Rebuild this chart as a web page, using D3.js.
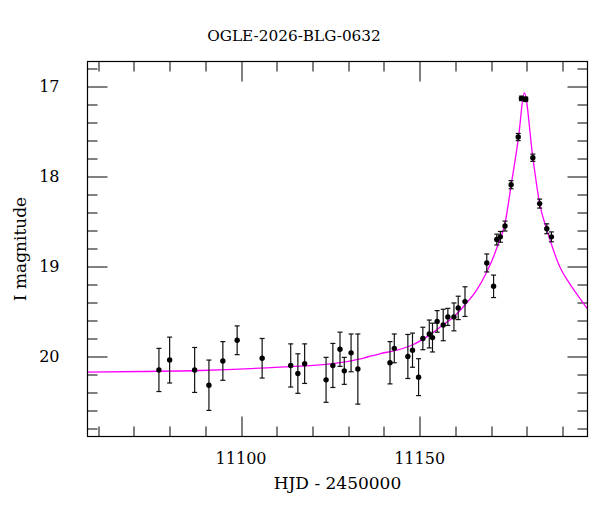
<!DOCTYPE html>
<html>
<head>
<meta charset="utf-8">
<script src="https://cdn.jsdelivr.net/npm/d3@7"></script>
<style>
  body { margin: 0; background: #fff; }
  svg text { font-family: "DejaVu Serif", "Liberation Serif", serif; fill: #000; }
</style>
</head>
<body>
<div id="chart"></div>
<script>
// observed photometry (HJD - 2450000, I mag, 1-sigma error)
const obsDays = [11077.0, 11080.0, 11087.0, 11091.0, 11094.9, 11098.9, 11105.9,
    11113.9, 11115.9, 11117.8, 11123.8, 11125.7, 11127.7, 11128.9, 11130.8, 11132.7,
    11141.7, 11142.9, 11146.7, 11148.0, 11149.7, 11150.9, 11152.7, 11153.6, 11154.9,
    11156.6, 11157.9, 11159.6, 11160.8, 11162.7, 11168.8, 11170.7, 11171.6, 11172.6,
    11173.9, 11175.6, 11177.6, 11178.5, 11179.7, 11181.7, 11183.6, 11185.6, 11186.9];
const obsMags = [20.15, 20.04, 20.15, 20.32, 20.05, 19.82, 20.02,
    20.10, 20.19, 20.08, 20.26, 20.10, 19.92, 20.16, 19.96, 20.14,
    20.07, 19.91, 20.00, 19.93, 20.23, 19.80, 19.75, 19.79, 19.61,
    19.65, 19.56, 19.56, 19.46, 19.39, 18.96, 19.22, 18.70, 18.67,
    18.55, 18.09, 17.56, 17.13, 17.14, 17.79, 18.30, 18.58, 18.67];
const obsErrs = [0.24, 0.255, 0.25, 0.28, 0.215, 0.16, 0.22,
    0.24, 0.22, 0.22, 0.25, 0.245, 0.19, 0.15, 0.21, 0.39,
    0.235, 0.16, 0.245, 0.19, 0.205, 0.125, 0.155, 0.16, 0.12,
    0.175, 0.095, 0.155, 0.13, 0.165, 0.10, 0.125, 0.06, 0.06,
    0.055, 0.045, 0.04, 0.025, 0.025, 0.04, 0.05, 0.055, 0.055];

// model light curve, sampled off the figure
const modelDays = [11057.0, 11071.7, 11088.4, 11110.8, 11125.7, 11134.1, 11138.8,
    11143.6, 11148.1, 11152.8, 11156.5, 11159.5, 11162.6, 11166.0, 11168.8, 11170.5,
    11171.9, 11173.9, 11175.6, 11177.7, 11179.3, 11181.7, 11183.6, 11185.6, 11187.3,
    11189.2, 11192.0, 11194.8, 11197.0];
const modelMags = [20.175, 20.167, 20.156, 20.118, 20.08, 20.02, 19.97,
    19.93, 19.87, 19.76, 19.65, 19.56, 19.43, 19.26, 19.06, 18.91,
    18.76, 18.52, 18.10, 17.56, 17.07, 17.79, 18.30, 18.59, 18.80,
    19.00, 19.19, 19.35, 19.47];

const xMajor = [11100, 11150];
const yMajor = [17, 18, 19, 20];

const titleText = 'OGLE-2026-BLG-0632';
const xLabel = 'HJD - 2450000';
const yLabel = 'I magnitude';

const width = 600, height = 512;
const margin = { top: 61.5, right: 12.5, bottom: 75.5, left: 87.5 };
const w = width - margin.left - margin.right;
const h = height - margin.top - margin.bottom;

const svg = d3.select('#chart').append('svg')
    .attr('width', width)
    .attr('height', height);

const g = svg.append('g')
    .attr('transform', `translate(${margin.left},${margin.top})`);

const x = d3.scaleLinear().domain([11057, 11197]).range([0, w]);
// magnitudes: brighter is up
const y = d3.scaleLinear().domain([16.72, 20.89]).range([0, h]);

// ticks inward on all four sides
const xMinor = d3.range(11060, 11197, 10);
const yMinor = d3.range(16.8, 20.89, 0.2);
const isMajor = (v, list) => list.some(m => Math.abs(m - v) < 1e-6);

const tickG = g.append('g').attr('stroke', '#000').attr('stroke-width', 1);
xMinor.forEach(v => {
    const len = isMajor(v, xMajor) ? 20 : 10;
    const px = Math.round(x(v)) + 0.5;
    tickG.append('line').attr('x1', px).attr('x2', px).attr('y1', h).attr('y2', h - len);
    tickG.append('line').attr('x1', px).attr('x2', px).attr('y1', 0).attr('y2', len);
});
yMinor.forEach(v => {
    const len = isMajor(v, yMajor) ? 20 : 10;
    const py = Math.round(y(v)) + 0.5;
    tickG.append('line').attr('x1', 0).attr('x2', len).attr('y1', py).attr('y2', py);
    tickG.append('line').attr('x1', w).attr('x2', w - len).attr('y1', py).attr('y2', py);
});

// tick labels
g.selectAll('.xlab')
    .data(xMajor)
    .join('text')
    .attr('class', 'xlab')
    .attr('x', d => x(d))
    .attr('y', h + 27)
    .attr('text-anchor', 'middle')
    .style('font-size', '16px')
    .text(d => d);

g.selectAll('.ylab')
    .data(yMajor)
    .join('text')
    .attr('class', 'ylab')
    .attr('x', -28)
    .attr('y', d => y(d))
    .attr('dy', '0.36em')
    .attr('text-anchor', 'end')
    .style('font-size', '16px')
    .text(d => d);

// model curve
const pts = modelDays.map((d, i) => ({ t: d, m: modelMags[i] }));
const lineGen = d3.line()
    .x(d => x(d.t))
    .y(d => y(d.m))
    .curve(d3.curveMonotoneX);

g.append('clipPath').attr('id', 'clip')
    .append('rect').attr('width', w).attr('height', h);

g.append('path')
    .datum(pts)
    .attr('clip-path', 'url(#clip)')
    .attr('fill', 'none')
    .attr('stroke', '#ff00ff')
    .attr('stroke-width', 1.3)
    .attr('d', lineGen);

// data points with error bars
const obs = obsDays.map((d, i) => ({ t: d, m: obsMags[i], e: obsErrs[i] }));
const pg = g.append('g').selectAll('g')
    .data(obs)
    .join('g');

pg.append('line')
    .attr('x1', d => x(d.t)).attr('x2', d => x(d.t))
    .attr('y1', d => y(d.m - d.e)).attr('y2', d => y(d.m + d.e))
    .attr('stroke', '#111').attr('stroke-width', 1.2);
pg.append('line')
    .attr('x1', d => x(d.t) - 2.5).attr('x2', d => x(d.t) + 2.5)
    .attr('y1', d => y(d.m - d.e)).attr('y2', d => y(d.m - d.e))
    .attr('stroke', '#111').attr('stroke-width', 1.2);
pg.append('line')
    .attr('x1', d => x(d.t) - 2.5).attr('x2', d => x(d.t) + 2.5)
    .attr('y1', d => y(d.m + d.e)).attr('y2', d => y(d.m + d.e))
    .attr('stroke', '#111').attr('stroke-width', 1.2);
pg.append('circle')
    .attr('cx', d => x(d.t))
    .attr('cy', d => y(d.m))
    .attr('r', 2.7)
    .attr('fill', '#000');

// frame
g.append('rect')
    .attr('x', 0).attr('y', 0)
    .attr('width', w).attr('height', h)
    .attr('fill', 'none')
    .attr('stroke', '#000')
    .attr('stroke-width', 1.2);

// titles
svg.append('text')
    .attr('x', 294)
    .attr('y', 41)
    .attr('text-anchor', 'middle')
    .style('font-size', '15.3px')
    .text(titleText);

svg.append('text')
    .attr('x', margin.left + w / 2)
    .attr('y', 489)
    .attr('text-anchor', 'middle')
    .style('font-size', '17px')
    .text(xLabel);

svg.append('text')
    .attr('transform', `translate(26,${margin.top + h / 2}) rotate(-90)`)
    .attr('text-anchor', 'middle')
    .style('font-size', '17px')
    .text(yLabel);
</script>
</body>
</html>
